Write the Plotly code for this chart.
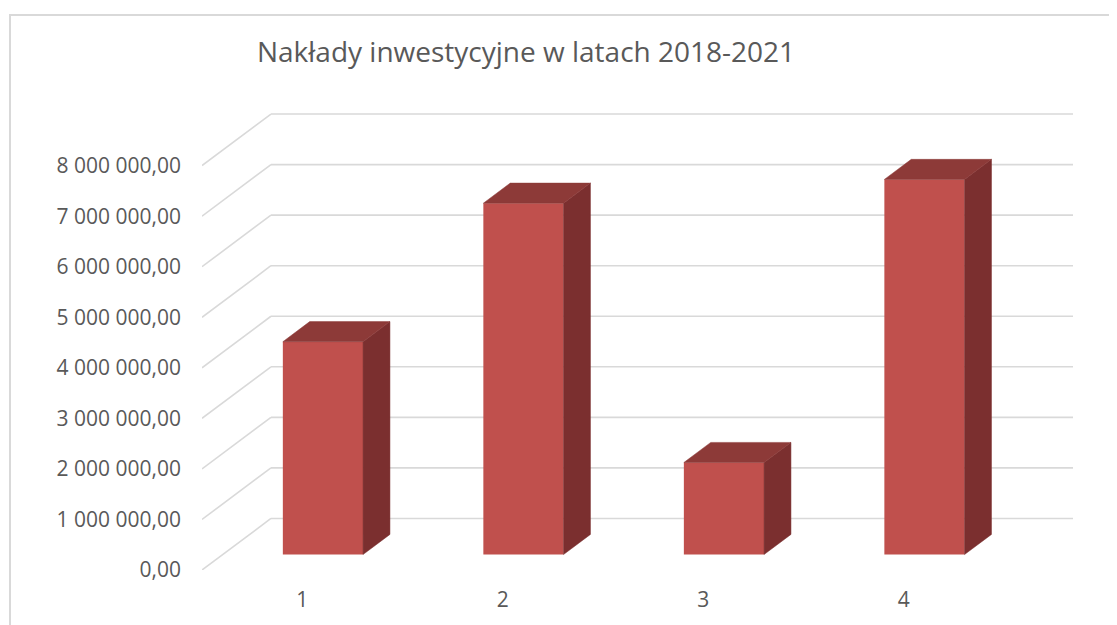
import plotly.graph_objects as go

# dane
categories = ["1", "2", "3", "4"]
values = [4210000, 6950000, 1820000, 7420000]
y_ticks = [0, 1000000, 2000000, 3000000, 4000000, 5000000, 6000000, 7000000, 8000000]
title = "Nakłady inwestycyjne w latach 2018-2021"

# pseudo 3D: glebokosc sceny w jednostkach osi
DX = 0.344       # przesuniecie poziome tylnej sciany (w kategoriach)
DY = 1020000     # przesuniecie pionowe tylnej sciany (w wartosciach)
front = 0.30     # przod slupka (ulamek glebokosci)
depth = 0.39     # glebokosc slupka
bar_w = 0.40

front_col = "#C0504D"
top_col = "#8D3A38"
side_col = "#7B2F2F"
grid_col = "#D9D9D9"
text_col = "#595959"


def fmt(v):
    return f"{v:,.2f}".replace(",", " ").replace(".", ",")


fig = go.Figure()

# siatka jako ksztalty pod slupkami: skos lewej sciany + linia tylnej sciany
grid = []
for v in y_ticks:
    grid.append(dict(type="line", xref="x", yref="y", x0=0.5, y0=v, x1=0.5 + DX, y1=v + DY,
                     line=dict(color=grid_col, width=1.6), layer="below"))
    grid.append(dict(type="line", xref="x", yref="y", x0=0.5 + DX, y0=v + DY, x1=4.5 + DX, y1=v + DY,
                     line=dict(color=grid_col, width=1.6), layer="below"))

xs = [i + 1 + front * DX for i in range(len(categories))]
base = front * DY

# przednie sciany slupkow
fig.add_trace(go.Bar(
    x=xs, y=values, base=base, width=bar_w,
    marker=dict(color=front_col, line=dict(width=0)),
    showlegend=False, hovertext=categories
))

# boki i gory
for x, v in zip(xs, values):
    xl = x - bar_w / 2
    xr = x + bar_w / 2
    ox = depth * DX
    oy = depth * DY
    top = base + v
    fig.add_trace(go.Scatter(
        x=[xr, xr + ox, xr + ox, xr, xr],
        y=[base, base + oy, top + oy, top, base],
        fill="toself", fillcolor=side_col, mode="lines",
        line=dict(color=side_col, width=0.5),
        hoverinfo="skip", showlegend=False, cliponaxis=False
    ))
    fig.add_trace(go.Scatter(
        x=[xl, xl + ox, xr + ox, xr, xl],
        y=[top, top + oy, top + oy, top, top],
        fill="toself", fillcolor=top_col, mode="lines",
        line=dict(color=top_col, width=0.5),
        hoverinfo="skip", showlegend=False, cliponaxis=False
    ))

# strona ma 8px marginesu body, wiec figura jest mniejsza o 8px
W, H = 1109, 617
ml, mr, mt, mb = 194, 44, 102, 55
pw, ph = W - ml - mr, H - mt - mb

frame = dict(type="rect", xref="paper", yref="paper",
             x0=(2 - ml) / pw, x1=(W + 20 - ml) / pw,
             y0=(-20 - mb) / ph, y1=(H - 7 - mb) / ph,
             line=dict(color="#D9D9D9", width=2), layer="below")

fig.update_layout(
    width=W, height=H,
    margin=dict(l=ml, r=mr, t=mt, b=mb),
    paper_bgcolor="white", plot_bgcolor="white",
    font=dict(family="Open Sans", color=text_col, size=21),
    title=dict(text=title, x=518 / W, y=1 - 44 / H, xanchor="center", yanchor="middle",
               font=dict(size=28, color=text_col)),
    xaxis=dict(range=[0.5, 4.5 + DX], tickvals=[1, 2, 3, 4], ticktext=categories,
               showgrid=False, zeroline=False, showline=False, ticks="",
               ticklabelstandoff=15),
    yaxis=dict(range=[0, 9100000], tickvals=y_ticks, ticktext=[fmt(v) for v in y_ticks],
               showgrid=False, zeroline=False, showline=False, ticks="",
               ticklabelstandoff=20),
    shapes=[frame] + grid,
)

fig.write_html("out.html")
